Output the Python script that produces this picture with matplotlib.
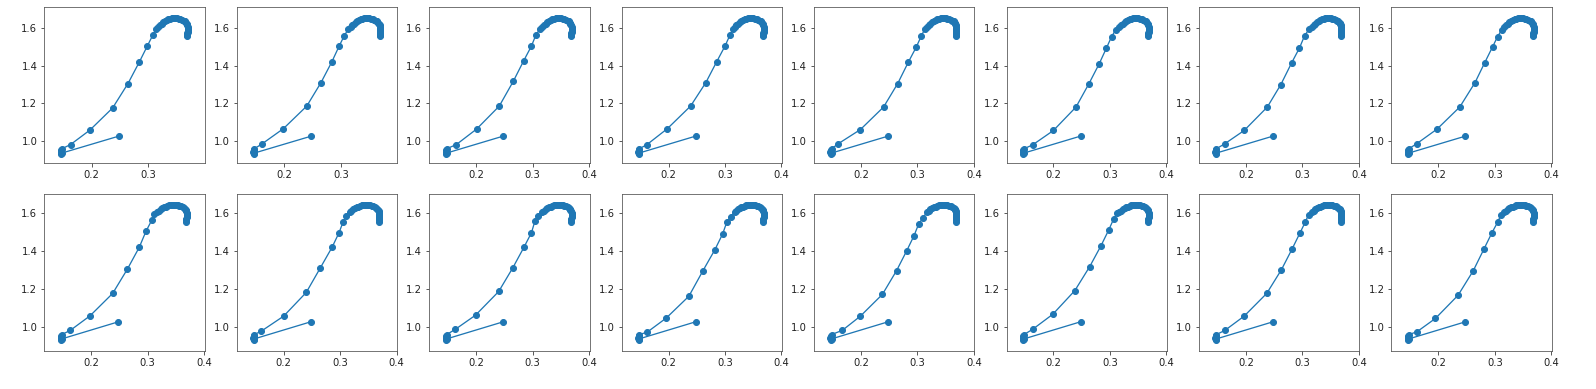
#!/usr/bin/env python3
"""Grid of 2x8 trajectory panels (same run, 16 snapshots)."""

import matplotlib
matplotlib.use("Agg")
import matplotlib.pyplot as plt

# shared start: jump from the first sample down into the low cluster
START_X = [0.248, 0.148, 0.147, 0.146, 0.147, 0.148]
START_Y = [1.025, 0.935, 0.928, 0.940, 0.950, 0.958]

# knee points, one list per panel (top row first, then bottom row)
MID_X = [
    [0.163, 0.197, 0.237, 0.264, 0.284, 0.298, 0.308, 0.314],
    [0.162, 0.199, 0.240, 0.265, 0.284, 0.297, 0.306, 0.313],
    [0.165, 0.201, 0.241, 0.266, 0.284, 0.298, 0.306, 0.313],
    [0.161, 0.198, 0.239, 0.266, 0.285, 0.300, 0.309, 0.315],
    [0.160, 0.199, 0.240, 0.265, 0.284, 0.298, 0.307, 0.313],
    [0.163, 0.200, 0.240, 0.263, 0.281, 0.294, 0.303, 0.310],
    [0.163, 0.197, 0.238, 0.262, 0.281, 0.295, 0.304, 0.312],
    [0.162, 0.198, 0.238, 0.265, 0.282, 0.296, 0.305, 0.312],
    [0.163, 0.198, 0.238, 0.264, 0.285, 0.297, 0.307, 0.312],
    [0.160, 0.200, 0.240, 0.265, 0.286, 0.298, 0.305, 0.311],
    [0.163, 0.199, 0.240, 0.265, 0.285, 0.298, 0.304, 0.310],
    [0.162, 0.196, 0.236, 0.261, 0.282, 0.296, 0.303, 0.310],
    [0.167, 0.199, 0.238, 0.263, 0.281, 0.294, 0.302, 0.310],
    [0.163, 0.199, 0.238, 0.264, 0.284, 0.298, 0.307, 0.313],
    [0.163, 0.197, 0.237, 0.263, 0.282, 0.296, 0.305, 0.311],
    [0.162, 0.195, 0.235, 0.262, 0.281, 0.295, 0.305, 0.311],
]
MID_Y = [
    [0.980, 1.057, 1.175, 1.305, 1.420, 1.505, 1.565, 1.597],
    [0.985, 1.065, 1.185, 1.310, 1.420, 1.505, 1.560, 1.595],
    [0.980, 1.063, 1.185, 1.318, 1.425, 1.505, 1.565, 1.595],
    [0.978, 1.065, 1.185, 1.310, 1.420, 1.505, 1.565, 1.598],
    [0.985, 1.060, 1.180, 1.305, 1.420, 1.500, 1.560, 1.595],
    [0.978, 1.055, 1.180, 1.305, 1.410, 1.495, 1.555, 1.590],
    [0.985, 1.055, 1.180, 1.300, 1.415, 1.495, 1.560, 1.595],
    [0.985, 1.063, 1.180, 1.310, 1.415, 1.500, 1.555, 1.590],
    [0.980, 1.057, 1.175, 1.303, 1.418, 1.503, 1.560, 1.595],
    [0.975, 1.055, 1.180, 1.310, 1.420, 1.495, 1.550, 1.585],
    [0.985, 1.060, 1.185, 1.310, 1.420, 1.495, 1.555, 1.585],
    [0.970, 1.045, 1.160, 1.295, 1.405, 1.490, 1.550, 1.580],
    [0.980, 1.055, 1.170, 1.295, 1.400, 1.480, 1.540, 1.575],
    [0.985, 1.065, 1.190, 1.315, 1.425, 1.510, 1.570, 1.600],
    [0.980, 1.055, 1.175, 1.300, 1.410, 1.495, 1.550, 1.590],
    [0.972, 1.043, 1.165, 1.295, 1.410, 1.495, 1.550, 1.590],
]

# dense arc at the top (slightly higher in the top row)
ARC_X = [0.317, 0.320, 0.323, 0.326, 0.329, 0.332, 0.335, 0.338, 0.341,
         0.344, 0.347, 0.350, 0.353, 0.356, 0.359, 0.362, 0.364, 0.366,
         0.367, 0.368, 0.369, 0.369, 0.369, 0.369, 0.368, 0.368, 0.368]
ARC_HIGH_Y = [1.608, 1.617, 1.625, 1.632, 1.638, 1.643, 1.647, 1.650, 1.652,
              1.653, 1.653, 1.652, 1.650, 1.648, 1.645, 1.641, 1.636, 1.630,
              1.623, 1.615, 1.607, 1.598, 1.590, 1.581, 1.572, 1.563, 1.556]
ARC_LOW_Y = [1.605, 1.612, 1.618, 1.624, 1.629, 1.633, 1.637, 1.640, 1.642,
             1.642, 1.642, 1.641, 1.639, 1.637, 1.634, 1.631, 1.627, 1.622,
             1.616, 1.609, 1.601, 1.593, 1.585, 1.577, 1.569, 1.561, 1.553]

XTICKS = [0.2, 0.3, 0.4]
YTICKS = [1.0, 1.2, 1.4, 1.6]


def main():
    fig, axes = plt.subplots(2, 8, figsize=(1596 / 72, 389 / 72), dpi=72)
    fig.subplots_adjust(left=0.0278, right=0.9723, bottom=0.0977, top=0.983,
                        wspace=0.2, hspace=0.2)

    for i, ax in enumerate(axes.flat):
        top = i < 8
        arc_y = ARC_HIGH_Y if top else ARC_LOW_Y
        xs = START_X + MID_X[i] + ARC_X
        ys = START_Y + MID_Y[i] + arc_y
        ax.plot(xs, ys, "o-", color="#1f77b4", lw=1.3)

        ax.set_xticks(XTICKS)
        ax.set_yticks(YTICKS)
        ax.tick_params(colors="#333333", labelcolor="#222222")
        for sp in ax.spines.values():
            sp.set_color("#555555")
        # first two top panels stop just short of 0.4
        ax.set_xlim(0.117, 0.399 if i < 2 else 0.401)
        if top:
            ax.set_ylim(0.881, 1.715)
        else:
            ax.set_ylim(0.871, 1.697)

    plt.savefig("out.png", dpi=72)


if __name__ == "__main__":
    main()
